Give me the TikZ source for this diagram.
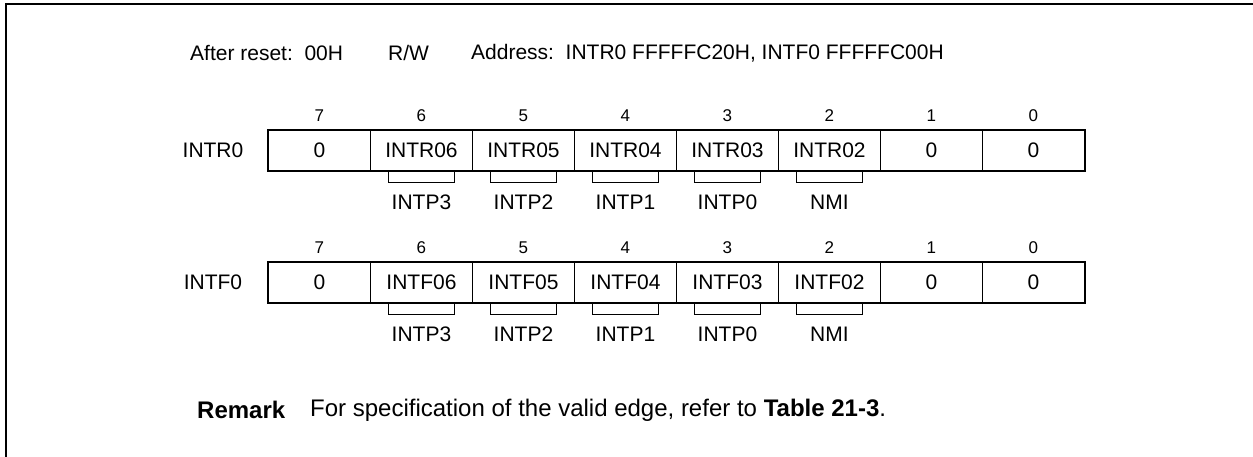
\documentclass[tikz,border=0pt]{standalone}
\usepackage{fontspec}
\setmainfont{Liberation Sans}
\begin{document}
\begin{tikzpicture}[x=1pt,y=-1pt,
  txt/.style={inner sep=0pt,font=\fontsize{21}{24}\selectfont},
  remtxt/.style={inner sep=0pt,font=\fontsize{24}{28}\selectfont},
  bitno/.style={inner sep=0pt,font=\fontsize{17}{20}\selectfont},
  cell/.style={draw,line width=0.9pt,minimum width=102pt,minimum height=40pt,inner sep=0pt,anchor=north west,font=\fontsize{21}{24}\selectfont},
  regbox/.style={draw,line width=2pt},
  brk/.style={line width=0.9pt},
  frame/.style={line width=2.2pt}]
\useasboundingbox (0,0) rectangle (1253,456);
\draw[frame] (6,460) -- (6,4) -- (1260,4);
% header
\node[txt,anchor=west] (hdr1) at (190,53) {After reset:\ \ 00H};
\node[txt,anchor=west] (hdr2) at (388,53) {R/W};
\node[txt,anchor=west] (hdr3) at (471,53) {Address:\ \ INTR0 FFFFFC20H, INTF0 FFFFFC00H};
% rows
\foreach \rname/\ry/\pre/\lab in {R/130/INTR0/INTR0, F/262/INTF0/INTF0}{
  \node[txt] (\rname lab) at (213,\ry+20) {\lab};
  \foreach \b/\content in {7/0,6/\pre6,5/\pre5,4/\pre4,3/\pre3,2/\pre2,1/0,0/0}{
    \pgfmathsetmacro{\xx}{268+(7-\b)*102}
    \node[cell] (\rname c\b) at (\xx,\ry) {\content};
    \node[bitno] (\rname n\b) at ([yshift=14pt]\rname c\b.north) {\b};
  }
  \draw[regbox] (\rname c7.north west) rectangle (\rname c0.south east);
  \foreach \b/\sig in {6/INTP3,5/INTP2,4/INTP1,3/INTP0,2/NMI}{
    \draw[brk] ([xshift=-33pt]\rname c\b.south) -- ++(0,12) -- ++(66,0) -- ++(0,-12);
    \node[txt] (\rname s\b) at ([yshift=-31pt]\rname c\b.south) {\sig};
  }
}
% remark
\node[remtxt,anchor=west] (rem) at (197,410) {\textbf{Remark}};
\node[remtxt,anchor=west] (remtext) at (310,410) {For specification of the valid edge, refer to \textbf{Table 21-3}.};
\end{tikzpicture}
\end{document}
